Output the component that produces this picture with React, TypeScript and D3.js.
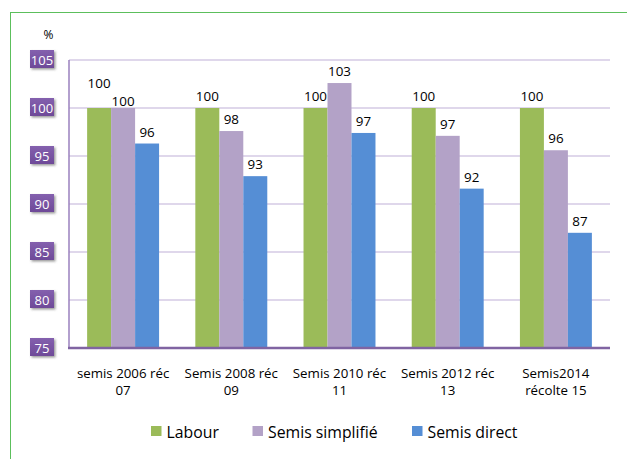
import React from "react";
import * as d3 from "d3";

const categories: string[][] = [
  ["semis 2006 réc", "07"],
  ["Semis 2008 réc", "09"],
  ["Semis 2010 réc", "11"],
  ["Semis 2012 réc", "13"],
  ["Semis2014", "récolte 15"],
];
const seriesNames = ["Labour", "Semis simplifié", "Semis direct"];
const labour = [100, 100, 100, 100, 100];
const simplifie = [100, 97.6, 102.6, 97.1, 95.6];
const direct = [96.3, 92.9, 97.4, 91.6, 87.0];
const yTicks = [75, 80, 85, 90, 95, 100, 105];
const colors = ["#9BBB59", "#B3A2C7", "#558ED5"];

const W = 627;
const H = 459;
const FONT = "'Open Sans', 'Noto Sans', sans-serif";

export default function App() {
  const series = [labour, simplifie, direct];
  const plotLeft = 69;
  const plotRight = 610;
  const plotTop = 60;
  const plotBottom = 348;

  const y = d3.scaleLinear().domain([75, 105]).range([plotBottom, plotTop]);
  const x = d3
    .scaleBand<number>()
    .domain(categories.map((_, i) => i))
    .range([plotLeft, plotRight])
    .padding(0);
  const step = x.bandwidth();
  const groupW = step * 0.665;
  const inner = d3
    .scaleBand<number>()
    .domain(seriesNames.map((_, i) => i))
    .range([(step - groupW) / 2, (step + groupW) / 2])
    .padding(0);

  // value label positions with simple collision avoidance
  const labels: { x: number; y: number; t: string }[][] = categories.map((_, ci) => {
    const arr = series.map((s, si) => ({
      x: (x(ci) as number) + (inner(si) as number) + inner.bandwidth() / 2,
      y: y(s[ci]) - 12,
      t: String(Math.round(s[ci])),
    }));
    for (let i = 0; i < arr.length - 1; i++) {
      const a = arr[i];
      const b = arr[i + 1];
      if (Math.abs(a.y - b.y) < 14) {
        const mid = (a.y + b.y) / 2 - 4;
        a.y = mid - 9;
        b.y = mid + 9;
      }
    }
    return arr;
  });

  const legendX = [151, 252.5, 412];

  return (
    <svg
      width={W}
      height={H}
      style={{ position: "absolute", left: 0, top: 0, background: "#fff" }}
      fontFamily={FONT}
    >
      <defs>
        <filter id="sh" x="-30%" y="-30%" width="170%" height="170%">
          <feDropShadow dx="1.5" dy="1.5" stdDeviation="0.8" floodColor="#555" floodOpacity="0.6" />
        </filter>
        <linearGradient id="pg" x1="0" y1="0" x2="0" y2="1">
          <stop offset="0" stopColor="#8460AE" />
          <stop offset="1" stopColor="#6E4A98" />
        </linearGradient>
      </defs>
      {/* outer frame */}
      <rect x={10.5} y={12.5} width={W + 20} height={H + 20} fill="none" stroke="#5CBF5C" strokeWidth={1} />

      {/* gridlines */}
      {yTicks.map((t) => (
        <line
          key={"g" + t}
          x1={plotLeft}
          x2={plotRight}
          y1={y(t)}
          y2={y(t)}
          stroke="#D5CAE4"
          strokeWidth={1.5}
        />
      ))}

      {/* bars */}
      {categories.map((_, ci) =>
        series.map((s, si) => (
          <rect
            key={`b${ci}-${si}`}
            x={(x(ci) as number) + (inner(si) as number)}
            y={y(s[ci])}
            width={inner.bandwidth()}
            height={plotBottom - y(s[ci])}
            fill={colors[si]}
          />
        ))
      )}

      {/* axes */}
      <line x1={plotLeft} x2={plotLeft} y1={plotTop} y2={plotBottom} stroke="#9A80BE" strokeWidth={1.5} />
      <line x1={plotLeft - 1} x2={plotRight} y1={plotBottom} y2={plotBottom} stroke="#8064A2" strokeWidth={2.5} />

      {/* y tick labels */}
      {yTicks.map((t) => (
        <g key={"t" + t} transform={`translate(42,${y(t) - 1})`}>
          <rect x={-12} y={-9} width={24} height={18} fill="url(#pg)" filter="url(#sh)" />
          <text
            x={0}
            y={0.5}
            textAnchor="middle"
            dominantBaseline="central"
            fill="#fff"
            fontSize={13}
          >
            {t}
          </text>
        </g>
      ))}
      <text x={48.5} y={34} textAnchor="middle" dominantBaseline="central" fontSize={12} fill="#000">
        %
      </text>

      {/* value labels */}
      {labels.flat().map((l, i) => (
        <text
          key={"v" + i}
          x={l.x}
          y={l.y}
          textAnchor="middle"
          dominantBaseline="central"
          fontSize={13.4}
          fill="#000"
        >
          {l.t}
        </text>
      ))}

      {/* category labels */}
      {categories.map((c, ci) =>
        c.map((line, li) => (
          <text
            key={`c${ci}-${li}`}
            x={(x(ci) as number) + step / 2}
            y={373 + li * 16.5}
            textAnchor="middle"
            dominantBaseline="central"
            fontSize={13.3}
            fill="#000"
          >
            {line}
          </text>
        ))
      )}

      {/* legend */}
      {seriesNames.map((n, i) => (
        <g key={"l" + i}>
          <rect x={legendX[i]} y={426} width={10.5} height={10} fill={colors[i]} />
          <text x={legendX[i] + 15.5} y={431.5} dominantBaseline="central" fontSize={15.8} fill="#000">
            {n}
          </text>
        </g>
      ))}
    </svg>
  );
}
